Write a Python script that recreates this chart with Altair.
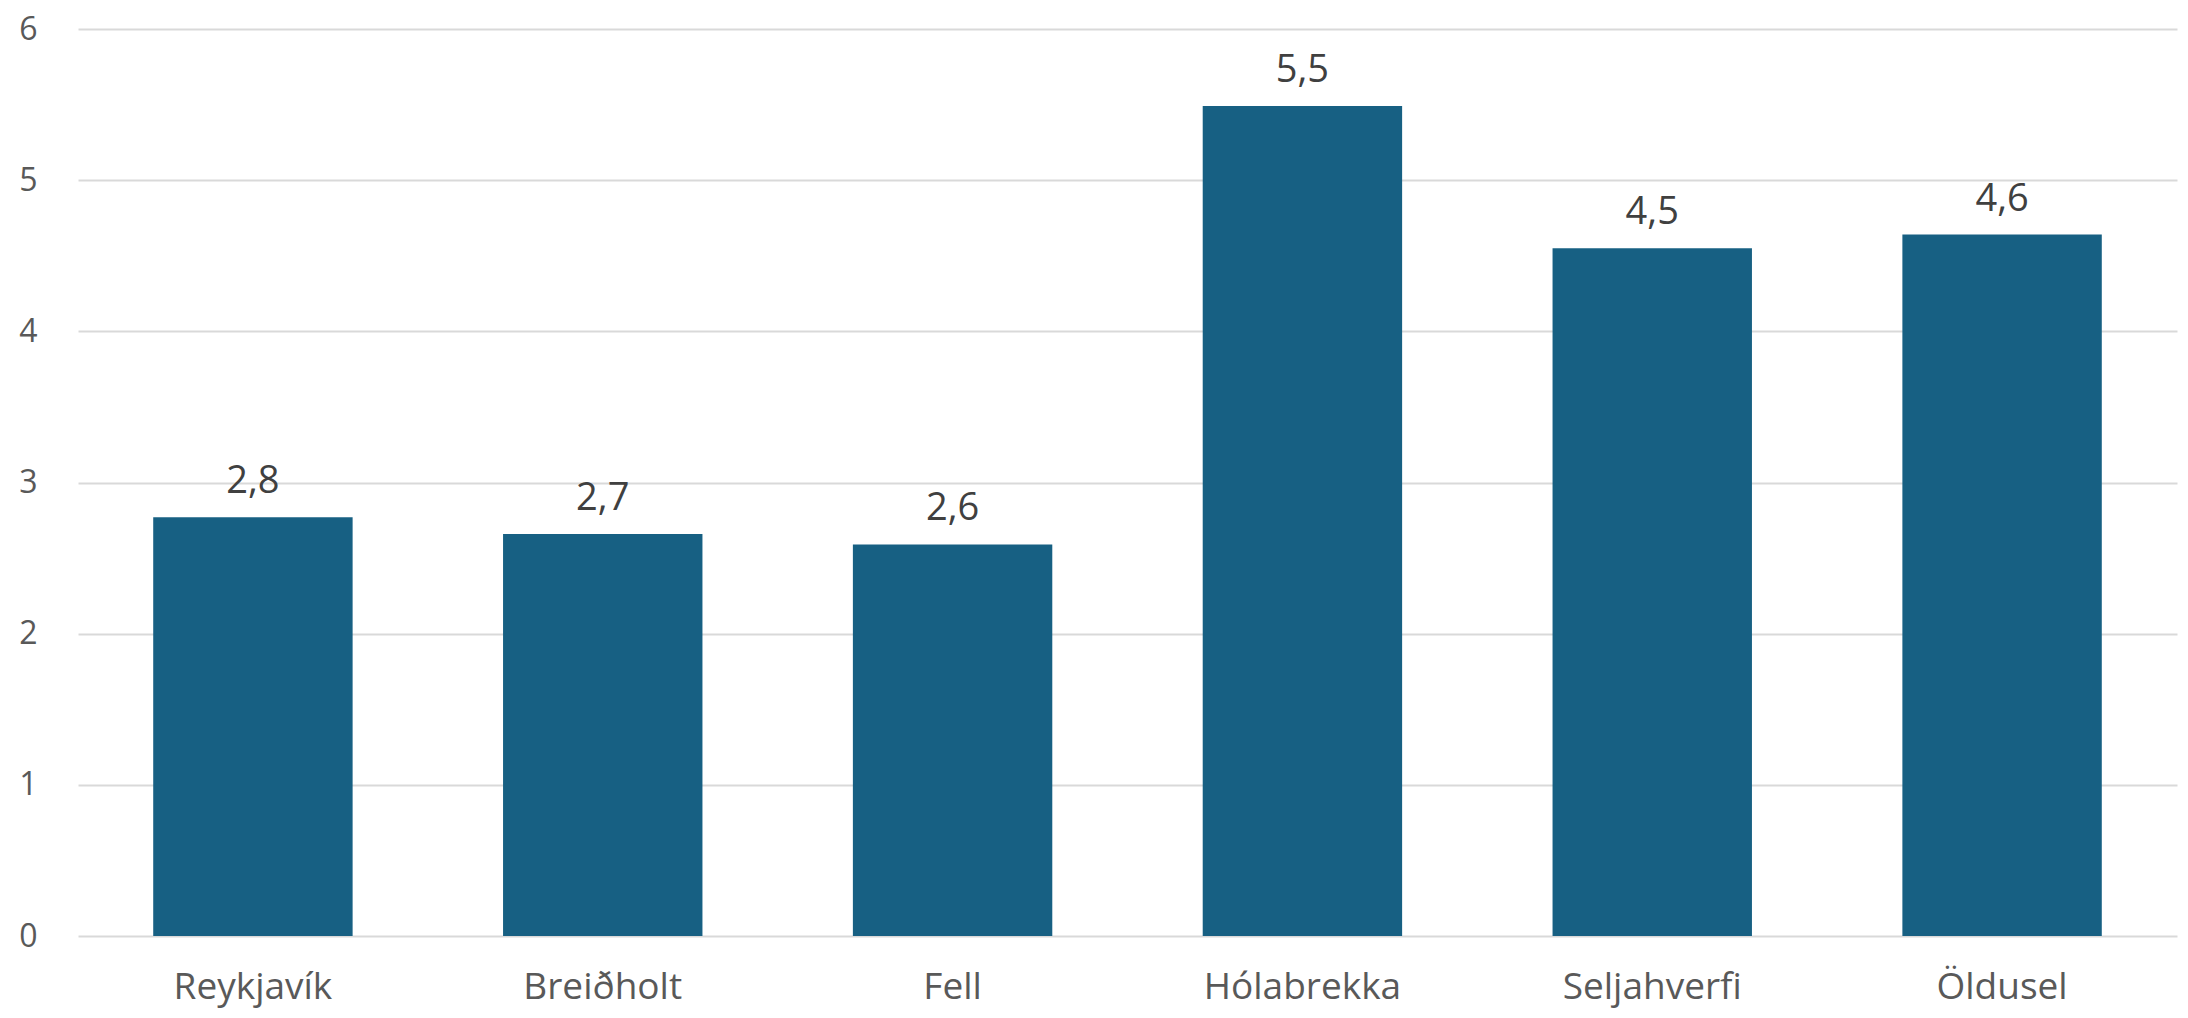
import altair as alt
import pandas as pd

categories = ["Reykjavík", "Breiðholt", "Fell", "Hólabrekka", "Seljahverfi", "Öldusel"]
values = [2.77, 2.66, 2.59, 5.49, 4.55, 4.64]

df = pd.DataFrame({"cat": categories, "value": values})

FONT = "Open Sans"

base = alt.Chart(df).encode(
    x=alt.X("cat:N", sort=categories, title=None,
            scale=alt.Scale(paddingInner=0.43, paddingOuter=0.215),
            axis=alt.Axis(labelAngle=0, domain=False, ticks=False, labelFont=FONT,
                          labelFontSize=37, labelColor="#595959", labelPadding=33,
                          labelLimit=0, grid=False)),
    y=alt.Y("value:Q", title=None,
            scale=alt.Scale(domain=[0, 6], nice=False),
            axis=alt.Axis(values=[0, 1, 2, 3, 4, 5, 6], domain=False, ticks=False,
                          labelFont=FONT, labelFontSize=32, labelColor="#595959",
                          labelPadding=41, gridColor="#d9d9d9", gridWidth=2)),
)

bars = base.mark_bar(color="#176083")

labels = base.transform_calculate(
    label="replace(format(datum.value, '.1f'), '.', ',')"
).mark_text(baseline="alphabetic", dy=-24, font=FONT, fontSize=38, color="#404040").encode(
    text="label:N"
)

chart = (bars + labels).properties(
    width=2099, height=907,
    autosize=alt.AutoSizeParams(type="none"),
    padding={"left": 70, "top": 21, "right": 3, "bottom": 74},
).configure_view(stroke=None)

chart.save("out.html", embed_options={"renderer": "svg", "actions": False})
